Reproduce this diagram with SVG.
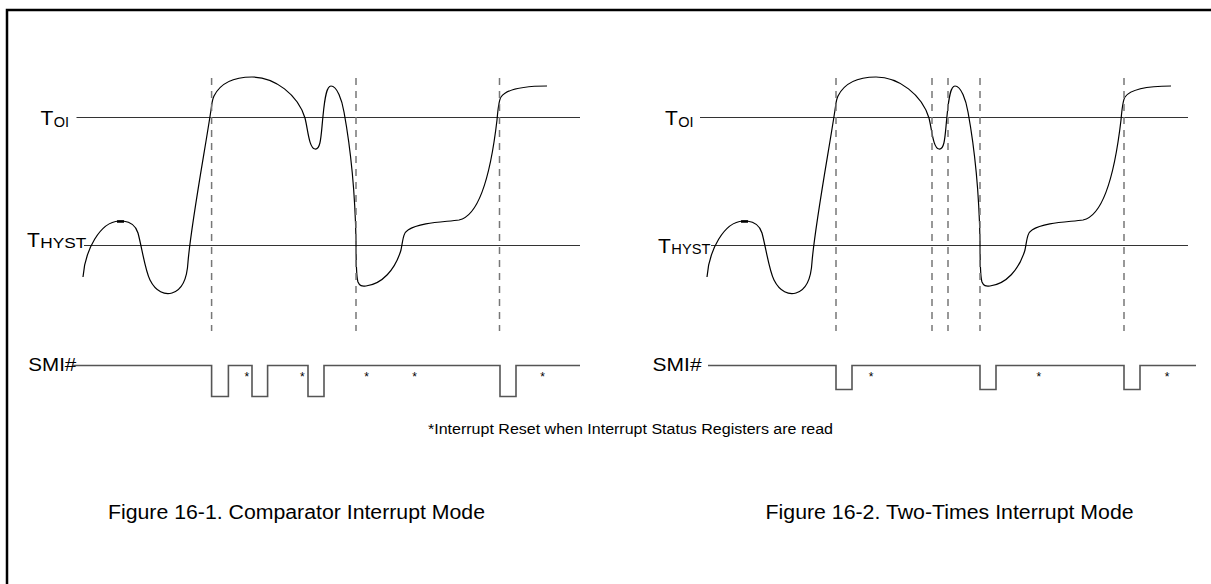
<svg xmlns="http://www.w3.org/2000/svg" width="1211" height="584" viewBox="0 0 1211 584">
<style>
  text { font-family: "Liberation Sans", Arial, sans-serif; fill: #000; }
  .frame { fill: none; stroke: #000; stroke-width: 2.5; }
  .thr { fill: none; stroke: #333; stroke-width: 1.2; }
  .curve { fill: none; stroke: #000; stroke-width: 1.2; }
  .mark { stroke: #000; stroke-width: 2.5; }
  .dash { fill: none; stroke: #777; stroke-width: 1.5; stroke-dasharray: 7 6; }
  .smi { fill: none; stroke: #555; stroke-width: 1.6; }
  .big { font-size: 21px; }
  .sub { font-size: 14.5px; }
  .lbl { font-size: 18px; }
  .ast { font-size: 12px; text-anchor: middle; }
  .cap { font-size: 20px; }
  .note { font-size: 14px; }
</style>
<defs>
  <path id="wave" d="M 83,277 C 85,250 100,222 119,221 L 123,221 C 132,222 136,226 138,233 C 142,248 145,270 150,280 C 156,292 165,295 172,293 C 182,290 187,280 188,262 C 191,225 205,150 211,110 C 212,104 212,100 214,96 C 222,80 240,77 252,77 C 275,77 298,95 305,118 C 308,130 309,148 315,149 C 321,150 321,135 323,116 C 325,95 327,86 331,86 C 337,86 342,100 344,112 C 350,145 355,190 356,240 C 356,260 356,276 358,282 C 360,287 363,286 366,286 C 382,284 395,270 401,250 C 403,240 403,233 408,230 C 420,222 445,222 459,220 C 478,216 490,180 497,120 C 498,108 499,100 501,97 C 506,90 520,86 547,86"/>
</defs>

<path id="frame" class="frame" d="M 7,600 V 10 H 1220"/>

<g id="fig1">
  <g id="fig1-thresholds">
    <line class="thr" x1="76.5" y1="117.5" x2="580" y2="117.5"/>
    <line class="thr" x1="84" y1="245.5" x2="580" y2="245.5"/>
    <text x="40.5" y="125" class="big">T<tspan class="sub" dx="0.5" dy="2">OI</tspan></text>
    <text x="27" y="247" class="big">T<tspan class="sub" dx="0.5" dy="1" textLength="46" lengthAdjust="spacingAndGlyphs">HYST</tspan></text>
  </g>
  <g id="fig1-wave">
    <use href="#wave" class="curve"/>
    <line class="mark" x1="117" y1="221.5" x2="124" y2="221.5"/>
  </g>
  <g id="fig1-markers">
    <line class="dash" x1="211.6" y1="78" x2="211.6" y2="331"/>
    <line class="dash" x1="356" y1="78" x2="356" y2="331"/>
    <line class="dash" x1="499.5" y1="78" x2="499.5" y2="331"/>
  </g>
  <g id="fig1-smi">
    <text x="28.3" y="370.5" class="lbl" textLength="48" lengthAdjust="spacingAndGlyphs">SMI#</text>
    <path class="smi" d="M 73,365.5 H 211.6 V 396.5 H 228.4 V 365.5 H 252 V 396.5 H 267.6 V 365.5 H 308 V 396.5 H 324 V 365.5 H 500 V 396.5 H 516 V 365.5 H 580"/>
    <text x="246.8" y="381" class="ast">*</text>
    <text x="302.3" y="381" class="ast">*</text>
    <text x="366.6" y="381" class="ast">*</text>
    <text x="414.5" y="381" class="ast">*</text>
    <text x="542.7" y="381" class="ast">*</text>
  </g>
  <text id="cap1" x="108" y="519" class="cap" textLength="377" lengthAdjust="spacingAndGlyphs">Figure 16-1. Comparator Interrupt Mode</text>
</g>

<g id="fig2">
  <g id="fig2-thresholds">
    <line class="thr" x1="700" y1="117.5" x2="1188" y2="117.5"/>
    <line class="thr" x1="711" y1="245.5" x2="1188" y2="245.5"/>
    <text x="665" y="124.5" class="big">T<tspan class="sub" dx="0.5" dy="2.5">OI</tspan></text>
    <text x="658" y="253" class="big">T<tspan class="sub" dx="0.5" dy="1" textLength="39" lengthAdjust="spacingAndGlyphs">HYST</tspan></text>
  </g>
  <g id="fig2-wave">
    <use href="#wave" class="curve" transform="translate(624,0)"/>
    <line class="mark" x1="741" y1="221.5" x2="748" y2="221.5"/>
  </g>
  <g id="fig2-markers">
    <line class="dash" x1="836" y1="78" x2="836" y2="331"/>
    <line class="dash" x1="932" y1="78" x2="932" y2="331"/>
    <line class="dash" x1="948" y1="78" x2="948" y2="331"/>
    <line class="dash" x1="980" y1="78" x2="980" y2="331"/>
    <line class="dash" x1="1124" y1="78" x2="1124" y2="331"/>
  </g>
  <g id="fig2-smi">
    <text x="652.6" y="371" class="lbl" textLength="49" lengthAdjust="spacingAndGlyphs">SMI#</text>
    <path class="smi" d="M 708,365.5 H 836 V 389.5 H 852 V 365.5 H 980 V 389.5 H 996 V 365.5 H 1124 V 389.5 H 1140 V 365.5 H 1196"/>
    <text x="871" y="381" class="ast">*</text>
    <text x="1038.8" y="381" class="ast">*</text>
    <text x="1167" y="381" class="ast">*</text>
  </g>
  <text id="cap2" x="765.6" y="519" class="cap" textLength="368" lengthAdjust="spacingAndGlyphs">Figure 16-2. Two-Times Interrupt Mode</text>
</g>

<text id="footnote" x="428" y="433.5" class="note" textLength="405" lengthAdjust="spacingAndGlyphs">*Interrupt Reset when Interrupt Status Registers are read</text>
</svg>
